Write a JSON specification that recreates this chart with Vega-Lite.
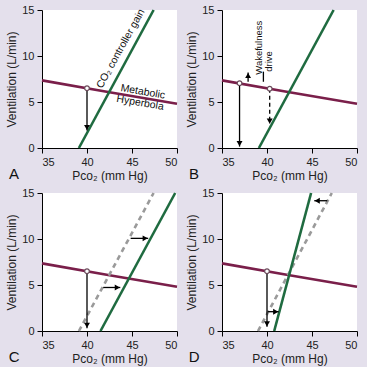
{
  "$schema": "https://vega.github.io/schema/vega-lite/v6.json",
  "background": "#e4e0ec",
  "padding": {"left": 5, "top": 4, "right": 5, "bottom": 5},
  "data": {"values": [
      {"panel": "A", "g": "hyper", "x": 35, "y": 7.35},
      {"panel": "A", "g": "hyper", "x": 42.5, "y": 6.05},
      {"panel": "A", "g": "hyper", "x": 50, "y": 4.8},
      {"panel": "B", "g": "hyper", "x": 35, "y": 7.35},
      {"panel": "B", "g": "hyper", "x": 42.5, "y": 6.05},
      {"panel": "B", "g": "hyper", "x": 50, "y": 4.8},
      {"panel": "C", "g": "hyper", "x": 35, "y": 7.35},
      {"panel": "C", "g": "hyper", "x": 42.5, "y": 6.05},
      {"panel": "C", "g": "hyper", "x": 50, "y": 4.8},
      {"panel": "D", "g": "hyper", "x": 35, "y": 7.35},
      {"panel": "D", "g": "hyper", "x": 42.5, "y": 6.05},
      {"panel": "D", "g": "hyper", "x": 50, "y": 4.8},
      {"panel": "A", "g": "gain", "x": 39.1, "y": 0},
      {"panel": "A", "g": "gain", "x": 47.4, "y": 15},
      {"panel": "B", "g": "gain", "x": 39.1, "y": 0},
      {"panel": "B", "g": "gain", "x": 47.4, "y": 15},
      {"panel": "C", "g": "gain", "x": 41.5, "y": 0},
      {"panel": "C", "g": "gain", "x": 49.8, "y": 15},
      {"panel": "D", "g": "gain", "x": 40.8, "y": 0},
      {"panel": "D", "g": "gain", "x": 44.9, "y": 15},
      {"panel": "C", "g": "old", "x": 39.1, "y": 0},
      {"panel": "C", "g": "old", "x": 47.4, "y": 15},
      {"panel": "D", "g": "old", "x": 39.0, "y": 0},
      {"panel": "D", "g": "old", "x": 47.2, "y": 15},
      {"panel": "A", "g": "arrow", "dir": "down", "dash": "solid", "x": 40, "y": 6.5, "x2": 40, "y2": 1.9},
      {"panel": "B", "g": "arrow", "dir": "down", "dash": "solid", "x": 36.95, "y": 7.05, "x2": 36.95, "y2": 0.15},
      {"panel": "B", "g": "arrow", "dir": "down", "dash": "dashed", "x": 40.3, "y": 6.45, "x2": 40.3, "y2": 2.6},
      {"panel": "B", "g": "arrow", "dir": "up", "dash": "solid", "x": 37.9, "y": 7.2, "x2": 37.9, "y2": 8.2},
      {"panel": "B", "g": "arrow", "dir": "none", "dash": "solid", "x": 39.6, "y": 7.2, "x2": 39.6, "y2": 8.3},
      {"panel": "C", "g": "arrow", "dir": "down", "dash": "solid", "x": 40, "y": 6.5, "x2": 40, "y2": 0.3},
      {"panel": "C", "g": "arrow", "dir": "right", "dash": "solid", "x": 44.85, "y": 10.07, "x2": 46.8, "y2": 10.07},
      {"panel": "C", "g": "arrow", "dir": "right", "dash": "solid", "x": 41.8, "y": 4.73, "x2": 43.7, "y2": 4.73},
      {"panel": "D", "g": "arrow", "dir": "down", "dash": "solid", "x": 40, "y": 6.5, "x2": 40, "y2": 0.45},
      {"panel": "D", "g": "arrow", "dir": "left", "dash": "solid", "x": 46.7, "y": 14.16, "x2": 45.25, "y2": 14.16},
      {"panel": "D", "g": "arrow", "dir": "right", "dash": "solid", "x": 40.1, "y": 2.1, "x2": 41.3, "y2": 2.1},
      {"panel": "A", "g": "dot", "x": 40, "y": 6.5},
      {"panel": "B", "g": "dot", "x": 36.95, "y": 7.05},
      {"panel": "B", "g": "dot", "x": 40.3, "y": 6.45},
      {"panel": "C", "g": "dot", "x": 40, "y": 6.5},
      {"panel": "D", "g": "dot", "x": 40, "y": 6.5},
      {"panel": "A", "g": "lab-gain", "text": "CO₂ controller gain", "x": 43.75, "y": 10.8},
      {"panel": "A", "g": "lab-hyper", "text": "Metabolic", "x": 46.2, "y": 6.1},
      {"panel": "A", "g": "lab-hyper", "text": "Hyperbola", "x": 45.9, "y": 4.9},
      {"panel": "B", "g": "lab-wake", "text": "Wakefulness", "x": 39.1, "y": 10.9},
      {"panel": "B", "g": "lab-wake", "text": "drive", "x": 40.2, "y": 9.4},
      {"panel": "A", "g": "letter", "text": "A", "x": 31.9, "y": -2.8},
      {"panel": "B", "g": "letter", "text": "B", "x": 31.9, "y": -2.8},
      {"panel": "C", "g": "letter", "text": "C", "x": 31.9, "y": -2.8},
      {"panel": "D", "g": "letter", "text": "D", "x": 31.9, "y": -2.8}
  ]},
  "facet": {"field": "panel", "type": "nominal", "header": {"labels": false, "title": null, "labelFontSize": 0, "labelPadding": 0}},
  "columns": 2,
  "spacing": 45,
  "bounds": "flush",
  "resolve": {"axis": {"x": "independent", "y": "independent"}},
  "config": {
    "font": "Liberation Sans",
    "header": {"labels": false, "title": null},
    "view": {"fill": "white", "stroke": null},
    "axis": {"grid": false, "domainColor": "#000000", "tickColor": "#000000", "tickSize": 5, "labelFont": "Liberation Sans", "titleFont": "Liberation Sans", "labelFontSize": 11, "titleFontSize": 12, "titleFontWeight": "normal", "labelColor": "#222222", "titleColor": "#222222", "labelPadding": 3, "titlePadding": 3}
  },
  "spec": {
    "width": 135,
    "height": 138,
    "encoding": {
      "x": {"field": "x", "type": "quantitative", "scale": {"domain": [35, 50], "nice": false}, "axis": {"values": [35, 40, 45, 50], "title": "Pco₂ (mm Hg)"}},
      "y": {"field": "y", "type": "quantitative", "scale": {"domain": [0, 15], "nice": false}, "axis": {"values": [0, 5, 10, 15], "title": "Ventilation (L/min)"}}
    },
    "layer": [
      {
        "transform": [{"filter": "datum.g === 'hyper'"}],
        "mark": {"type": "line", "color": "#7a1f4a", "strokeWidth": 2.6}
      },
      {
        "transform": [{"filter": "datum.g === 'old'"}],
        "mark": {"type": "line", "color": "#9a9a9a", "strokeWidth": 2.6, "strokeDash": [5, 4]}
      },
      {
        "transform": [{"filter": "datum.g === 'gain'"}],
        "mark": {"type": "line", "color": "#1f6b40", "strokeWidth": 2.6}
      },
      {
        "transform": [{"filter": "datum.g === 'arrow' && datum.dash === 'solid'"}],
        "mark": {"type": "rule", "color": "#000000", "strokeWidth": 1.3},
        "encoding": {"x2": {"field": "x2"}, "y2": {"field": "y2"}}
      },
      {
        "transform": [{"filter": "datum.g === 'arrow' && datum.dash === 'dashed'"}],
        "mark": {"type": "rule", "color": "#000000", "strokeWidth": 1.3, "strokeDash": [4, 3]},
        "encoding": {"x2": {"field": "x2"}, "y2": {"field": "y2"}}
      },
      {
        "transform": [{"filter": "datum.g === 'arrow' && datum.dir === 'down'"}],
        "mark": {"type": "point", "shape": "triangle-down", "filled": true, "color": "#000000", "size": 35, "opacity": 1, "yOffset": -3},
        "encoding": {"x": {"field": "x2", "type": "quantitative"}, "y": {"field": "y2", "type": "quantitative"}}
      },
      {
        "transform": [{"filter": "datum.g === 'arrow' && datum.dir === 'up'"}],
        "mark": {"type": "point", "shape": "triangle-up", "filled": true, "color": "#000000", "size": 35, "opacity": 1, "yOffset": 3},
        "encoding": {"x": {"field": "x2", "type": "quantitative"}, "y": {"field": "y2", "type": "quantitative"}}
      },
      {
        "transform": [{"filter": "datum.g === 'arrow' && datum.dir === 'right'"}],
        "mark": {"type": "point", "shape": "triangle-right", "filled": true, "color": "#000000", "size": 35, "opacity": 1, "xOffset": -3},
        "encoding": {"x": {"field": "x2", "type": "quantitative"}, "y": {"field": "y2", "type": "quantitative"}}
      },
      {
        "transform": [{"filter": "datum.g === 'arrow' && datum.dir === 'left'"}],
        "mark": {"type": "point", "shape": "triangle-left", "filled": true, "color": "#000000", "size": 35, "opacity": 1, "xOffset": 3},
        "encoding": {"x": {"field": "x2", "type": "quantitative"}, "y": {"field": "y2", "type": "quantitative"}}
      },
      {
        "transform": [{"filter": "datum.g === 'dot'"}],
        "mark": {"type": "point", "shape": "circle", "filled": true, "fill": "#ffffff", "stroke": "#6a4a5a", "strokeWidth": 1.2, "size": 22, "opacity": 1}
      },
      {
        "transform": [{"filter": "datum.g === 'lab-gain'"}],
        "mark": {"type": "text", "angle": -61, "fontSize": 10.5, "color": "#111111", "align": "center", "baseline": "middle"},
        "encoding": {"text": {"field": "text"}}
      },
      {
        "transform": [{"filter": "datum.g === 'lab-hyper'"}],
        "mark": {"type": "text", "angle": 10, "fontSize": 10.5, "color": "#111111", "align": "center", "baseline": "middle"},
        "encoding": {"text": {"field": "text"}}
      },
      {
        "transform": [{"filter": "datum.g === 'lab-wake'"}],
        "mark": {"type": "text", "angle": -90, "fontSize": 9.5, "color": "#111111", "align": "center", "baseline": "middle"},
        "encoding": {"text": {"field": "text"}}
      },
      {
        "transform": [{"filter": "datum.g === 'letter'"}],
        "mark": {"type": "text", "fontSize": 15, "color": "#111111", "align": "center", "baseline": "middle"},
        "encoding": {"text": {"field": "text"}}
      }
    ]
  }
}
